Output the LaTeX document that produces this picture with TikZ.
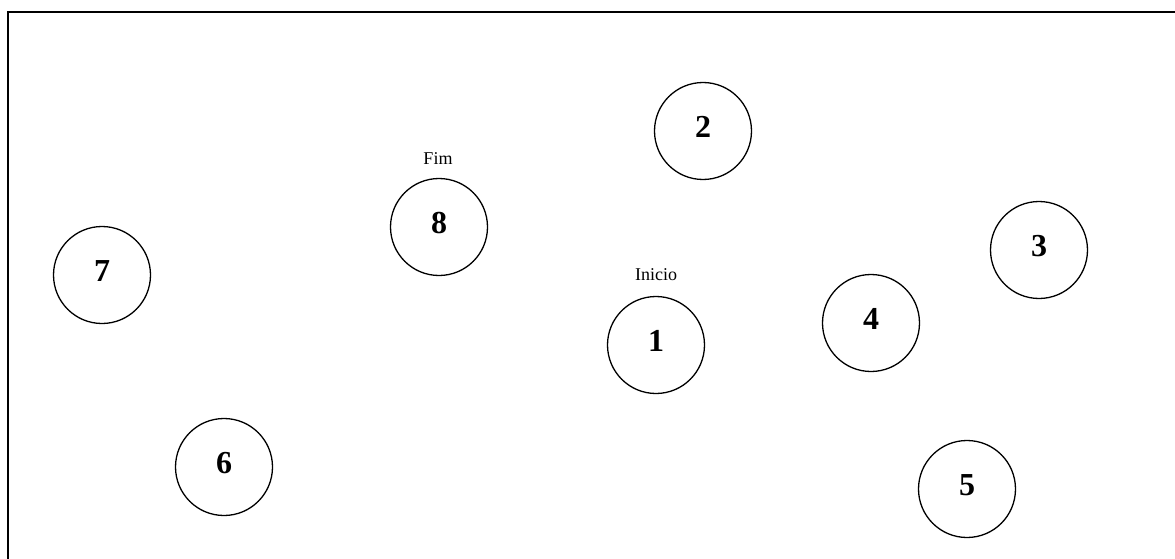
\documentclass[tikz,border=0pt]{standalone}
\usepackage{fontspec}
\setmainfont{Liberation Serif}
\begin{document}
\begin{tikzpicture}[x=1pt,y=-1pt,
  state/.style={circle,draw,line width=1.3pt,minimum size=97pt,inner sep=0pt,text depth=8pt,font=\fontsize{32}{36}\selectfont\bfseries},
  lbl/.style={font=\fontsize{18}{20}\selectfont}]
\useasboundingbox (0,0) rectangle (1175,559);
\clip (0,0) rectangle (1175,559);
\draw[line width=2.2pt] (8,600) -- (8,12) -- (1200,12);
\node[state] (n1) at (656,345) {1};
\node[state] (n2) at (703,131) {2};
\node[state] (n3) at (1039,250) {3};
\node[state] (n4) at (871,323) {4};
\node[state] (n5) at (967,489) {5};
\node[state] (n6) at (224,467) {6};
\node[state] (n7) at (102,275) {7};
\node[state] (n8) at (439,227) {8};
\node[lbl] (inicio) at (656,275) {Inicio};
\node[lbl] (fim) at (438,159) {Fim};
\end{tikzpicture}
\end{document}
